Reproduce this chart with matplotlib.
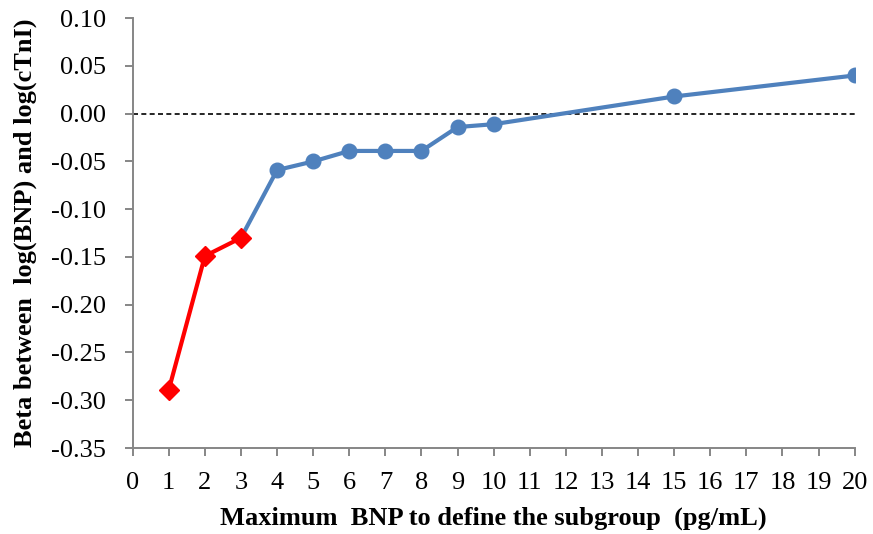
import matplotlib
matplotlib.use("Agg")
import matplotlib.pyplot as plt

red_x = [1, 2, 3]
red_y = [-0.289, -0.149, -0.130]
blue_x = [3, 4, 5, 6, 7, 8, 9, 10, 15, 20]
blue_y = [-0.130, -0.059, -0.050, -0.039, -0.039, -0.039, -0.014, -0.011, 0.018, 0.040]
x_ticks = list(range(0, 21))
y_ticks = [0.10, 0.05, 0.00, -0.05, -0.10, -0.15, -0.20, -0.25, -0.30, -0.35]

plt.rcParams['font.family'] = ['Liberation Serif', 'DejaVu Serif']

fig = plt.figure(figsize=(8.73, 5.34), dpi=100)
ax = fig.add_axes([0.152, 0.161, 0.827, 0.805])

ax.axhline(0, color='black', linestyle=(0, (3, 2)), linewidth=1.2, zorder=1)
ax.plot(blue_x, blue_y, color='#4F81BD', linewidth=3, marker='o', markersize=10.5,
        markevery=list(range(1, len(blue_x))), zorder=2)
ax.plot(red_x, red_y, color='#FF0000', linewidth=3, marker='D', markersize=10, zorder=3)

ax.set_xlim(0, 20)
ax.set_ylim(-0.35, 0.10)
ax.set_xticks(x_ticks)
ax.set_yticks(y_ticks)
ax.set_yticklabels([f"{v:.2f}" for v in y_ticks])

for s in ['top', 'right']:
    ax.spines[s].set_visible(False)
for s in ['left', 'bottom']:
    ax.spines[s].set_color('#868686')
    ax.spines[s].set_linewidth(1.4)
ax.tick_params(axis='both', direction='out', color='#868686', width=1.4, length=6, labelsize=19)
ax.tick_params(axis='x', pad=11)
ax.tick_params(axis='y', pad=13)

ax.set_xlabel("Maximum  BNP to define the subgroup  (pg/mL)", fontsize=19, fontweight='bold', labelpad=9)
ax.set_ylabel("Beta between  log(BNP) and log(cTnI)", fontsize=19, fontweight='bold', labelpad=10)

fig.savefig("out.png", dpi=100)
